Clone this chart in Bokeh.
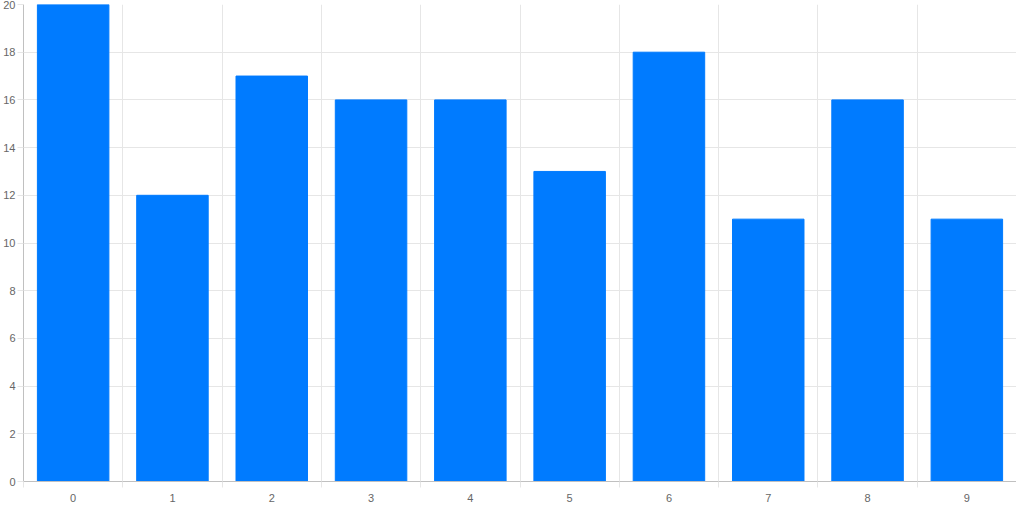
from bokeh.plotting import figure
from bokeh.models import FixedTicker, ColumnDataSource, Range1d
from bokeh.embed import file_html
from bokeh.resources import INLINE

categories = ["0", "1", "2", "3", "4", "5", "6", "7", "8", "9"]
values = [20, 12, 17, 16, 16, 13, 18, 11, 16, 11]
y_ticks = [0, 2, 4, 6, 8, 10, 12, 14, 16, 18, 20]

xs = [i + 0.5 for i in range(len(categories))]
src = ColumnDataSource(dict(x=xs, top=values))

p = figure(width=1016, height=504, output_backend="svg", toolbar_location=None,
           x_range=Range1d(0, len(categories)), y_range=Range1d(0, 20),
           min_border_left=2, min_border_right=0, min_border_top=4, min_border_bottom=0)
p.outline_line_color = None
p.background_fill_color = "white"
p.border_fill_color = "white"

p.vbar(x="x", top="top", bottom=0, width=0.72, source=src,
       fill_color="#007bff", line_color="#007bff", line_width=1)

grid_c = "#e6e6e6"
lab_c = "#666666"
font = "Liberation Sans"

# x axis
p.xaxis.ticker = FixedTicker(ticks=xs, minor_ticks=list(range(len(categories) + 1)))
p.xaxis.major_label_overrides = {x: c for x, c in zip(xs, categories)}
p.xaxis.major_tick_out = 0
p.xaxis.major_tick_in = 0
p.xaxis.minor_tick_out = 6
p.xaxis.minor_tick_in = 0
p.xaxis.minor_tick_line_color = grid_c
p.xaxis.axis_line_color = "#c0c0c0"
p.xaxis.major_label_text_color = lab_c
p.xaxis.major_label_text_font = font
p.xaxis.major_label_text_font_size = "11px"
p.xaxis.major_label_standoff = 6

p.xgrid.ticker = FixedTicker(ticks=list(range(len(categories) + 1)))
p.xgrid.grid_line_color = grid_c

# y axis
p.yaxis.ticker = FixedTicker(ticks=y_ticks)
p.yaxis.major_tick_out = 6
p.yaxis.major_tick_in = 0
p.yaxis.minor_tick_line_color = None
p.yaxis.major_tick_line_color = grid_c
p.yaxis.axis_line_color = "#c0c0c0"
p.yaxis.major_label_text_color = lab_c
p.yaxis.major_label_text_font = font
p.yaxis.major_label_text_font_size = "11px"
p.yaxis.major_label_standoff = 2
p.ygrid.grid_line_color = grid_c

open("out.html", "w").write(file_html(p, INLINE))
